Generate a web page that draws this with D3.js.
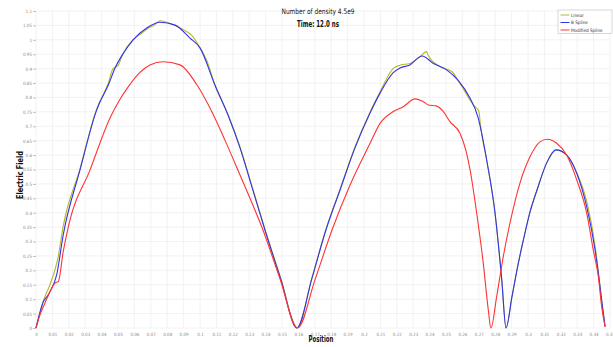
<!DOCTYPE html>
<html>
<head>
<meta charset="utf-8">
<script src="https://cdn.jsdelivr.net/npm/d3@7"></script>
<style>
  html, body { margin: 0; padding: 0; background: #fff; }
  svg { display: block; font-family: "Liberation Sans", "DejaVu Sans", sans-serif; }
</style>
</head>
<body>
<svg id="chart" width="613" height="347"></svg>
<script>
// Electric field profiles at t = 12.0 ns, three interpolation schemes.
// Each array holds [position, field] pairs.
const linearField = [
  [0, 0], [0.0045, 0.095], [0.0085, 0.150], [0.0134, 0.243], [0.0165, 0.351],
  [0.0268, 0.552], [0.0370, 0.760], [0.0441, 0.850], [0.0469, 0.899], [0.0500, 0.910],
  [0.0530, 0.952], [0.0591, 1.000], [0.0645, 1.023], [0.0683, 1.040], [0.0720, 1.050],
  [0.0756, 1.066], [0.0800, 1.060], [0.0848, 1.050], [0.0909, 1.032], [0.0950, 1.015],
  [0.1000, 0.972], [0.1040, 0.930], [0.1091, 0.843], [0.1171, 0.739], [0.1244, 0.628],
  [0.1317, 0.492], [0.1396, 0.343], [0.1494, 0.170], [0.1591, 0],
  [0.1683, 0.176], [0.1768, 0.343], [0.1854, 0.482], [0.1945, 0.628], [0.2037, 0.750],
  [0.2098, 0.820], [0.2177, 0.900], [0.2220, 0.912], [0.2280, 0.918], [0.2341, 0.941],
  [0.2382, 0.959], [0.2390, 0.947], [0.2433, 0.919], [0.2482, 0.902], [0.2535, 0.890],
  [0.2585, 0.849], [0.2667, 0.774], [0.2701, 0.751], [0.2710, 0.704], [0.2748, 0.583],
  [0.2799, 0.399], [0.2840, 0.167], [0.2866, 0],
  [0.2902, 0.108], [0.2939, 0.219], [0.2976, 0.316], [0.3012, 0.402], [0.3055, 0.479],
  [0.3114, 0.573], [0.3171, 0.618], [0.3236, 0.600], [0.3297, 0.540], [0.3358, 0.440],
  [0.3409, 0.285], [0.3429, 0.195], [0.3449, 0.097], [0.3470, 0.005]
];

const bSplineField = [
  [0, 0], [0.0045, 0.091], [0.0075, 0.115], [0.0085, 0.126], [0.0126, 0.184],
  [0.0166, 0.323], [0.0268, 0.548], [0.0370, 0.756], [0.0390, 0.784], [0.0441, 0.843],
  [0.0482, 0.902], [0.0530, 0.951], [0.0591, 0.999], [0.0675, 1.041], [0.0756, 1.061],
  [0.0848, 1.051], [0.0939, 1.006], [0.1000, 0.972], [0.1091, 0.843], [0.1171, 0.739],
  [0.1244, 0.625], [0.1317, 0.489], [0.1396, 0.340], [0.1494, 0.167], [0.1591, 0],
  [0.1683, 0.173], [0.1768, 0.340], [0.1854, 0.479], [0.1945, 0.625], [0.2037, 0.746],
  [0.2098, 0.815], [0.2177, 0.885], [0.2220, 0.902], [0.2280, 0.913], [0.2354, 0.944],
  [0.2421, 0.919], [0.2506, 0.895], [0.2573, 0.860], [0.2646, 0.798], [0.2695, 0.732],
  [0.2707, 0.704], [0.2748, 0.583], [0.2799, 0.399], [0.2840, 0.167], [0.2866, 0],
  [0.2902, 0.108], [0.2939, 0.219], [0.2976, 0.316], [0.3012, 0.402], [0.3055, 0.479],
  [0.3114, 0.573], [0.3171, 0.618], [0.3236, 0.600], [0.3297, 0.537], [0.3358, 0.421],
  [0.3409, 0.271], [0.3429, 0.191], [0.3449, 0.097], [0.3470, 0.005]
];

const modifiedSplineField = [
  [0, 0], [0.0024, 0.045], [0.0055, 0.087], [0.0085, 0.126], [0.0116, 0.156],
  [0.0136, 0.161], [0.0166, 0.265], [0.0197, 0.351], [0.0329, 0.548], [0.0457, 0.736],
  [0.0506, 0.788], [0.0561, 0.836], [0.0634, 0.887], [0.0695, 0.913], [0.0774, 0.924],
  [0.0878, 0.913], [0.0982, 0.843], [0.1061, 0.763], [0.1152, 0.652], [0.1244, 0.531],
  [0.1317, 0.434], [0.1384, 0.340], [0.1488, 0.170], [0.1595, 0],
  [0.1701, 0.167], [0.1805, 0.340], [0.1915, 0.496], [0.2037, 0.641], [0.2098, 0.710],
  [0.2179, 0.751], [0.2240, 0.768], [0.2311, 0.795], [0.2362, 0.785], [0.2392, 0.774],
  [0.2443, 0.770], [0.2484, 0.751], [0.2524, 0.716], [0.2585, 0.676], [0.2622, 0.615],
  [0.2648, 0.545], [0.2687, 0.399], [0.2727, 0.226], [0.2758, 0.062], [0.2774, 0],
  [0.2809, 0.109], [0.2849, 0.247], [0.2890, 0.364], [0.2951, 0.503], [0.3012, 0.594],
  [0.3073, 0.646], [0.3118, 0.655], [0.3175, 0.641], [0.3236, 0.600], [0.3297, 0.514],
  [0.3358, 0.399], [0.3398, 0.271], [0.3429, 0.178], [0.3449, 0.074], [0.3470, 0.005]
];

const seriesNames = ["Linear", "B Spline", "Modified Spline"];
const seriesColors = ["#b3bb24", "#3333ee", "#ff3333"];
const xTickValues = d3.range(0, 36).map(i => i / 100);
const yTickValues = d3.range(0, 23).map(i => i / 20);

const svg = d3.select("#chart");
const x = d3.scaleLinear().domain([0, 0.35]).range([36, 610]);
const y = d3.scaleLinear().domain([0, 1.1]).range([328, 11]);

// light grid
const grid = svg.append("g");
grid.selectAll("line.vx").data(xTickValues).join("line")
  .attr("x1", d => x(d)).attr("x2", d => x(d))
  .attr("y1", y(1.1)).attr("y2", y(0))
  .attr("stroke", "#efefef").attr("stroke-width", 0.8);
grid.selectAll("line.hy").data(yTickValues).join("line")
  .attr("x1", x(0)).attr("x2", x(0.35))
  .attr("y1", d => y(d)).attr("y2", d => y(d))
  .attr("stroke", "#efefef").attr("stroke-width", 0.8);

// axes
const fmt = d => d3.format("~g")(+d.toFixed(2));
const xAxis = svg.append("g").attr("transform", `translate(0,${y(0)})`)
  .call(d3.axisBottom(x).tickValues(xTickValues).tickFormat(fmt).tickSize(0).tickPadding(5));
const yAxis = svg.append("g").attr("transform", `translate(${x(0)},0)`)
  .call(d3.axisLeft(y).tickValues(yTickValues).tickFormat(fmt).tickSize(3).tickPadding(1));
[xAxis, yAxis].forEach(a => {
  a.select(".domain").remove();
  a.selectAll("text").attr("fill", "#8a8a8a").style("font-size", "4.5px")
    .style("font-family", "'DejaVu Sans Condensed', 'Liberation Sans Narrow', sans-serif");
  a.selectAll(".tick line").attr("stroke", "#999").attr("stroke-width", 0.6);
});

// curves
const line = d3.line().x(d => x(d[0])).y(d => y(d[1])).curve(d3.curveMonotoneX);
[linearField, bSplineField, modifiedSplineField].forEach((data, i) => {
  svg.append("path").datum(data)
    .attr("fill", "none")
    .attr("stroke", seriesColors[i])
    .attr("stroke-width", 1.1)
    .attr("stroke-linejoin", "round")
    .attr("d", line);
});

// titles (narrow face, squeezed to the drawn width)
function label(txt, px, py, size, weight, width, rotate) {
  const t = svg.append("text")
    .attr("text-anchor", "middle")
    .attr("transform", rotate ? `translate(${px},${py}) rotate(-90)` : `translate(${px},${py})`)
    .style("font-size", size + "px").style("font-weight", weight)
    .style("font-family", "'Liberation Sans Narrow', 'DejaVu Sans Condensed', sans-serif")
    .attr("fill", "#111")
    .attr("textLength", width).attr("lengthAdjust", "spacingAndGlyphs")
    .text(txt);
  return t;
}
label("Number of density 4.5e9", 318, 14, 7.5, "normal", 73);
label("Time: 12.0 ns", 318, 27, 8.5, "bold", 42);
label("Position", 321, 342, 8, "bold", 25);
label("Electric Field", 23, 175, 9, "bold", 48, true);

// legend
const legend = svg.append("g");
legend.append("rect").attr("x", 558).attr("y", 10).attr("width", 54).attr("height", 23.5)
  .attr("fill", "#fff").attr("stroke", "#b0b0b0").attr("stroke-width", 0.5);
seriesNames.forEach((name, i) => {
  const ly = 15 + i * 7.5;
  legend.append("line").attr("x1", 560.5).attr("x2", 569.5).attr("y1", ly).attr("y2", ly)
    .attr("stroke", seriesColors[i]).attr("stroke-width", 1);
  legend.append("text").attr("x", 571).attr("y", ly + 1.6)
    .style("font-size", "4.6px").style("font-family", "'DejaVu Sans Condensed', sans-serif")
    .attr("fill", "#333").text(name);
});
</script>
</body>
</html>
